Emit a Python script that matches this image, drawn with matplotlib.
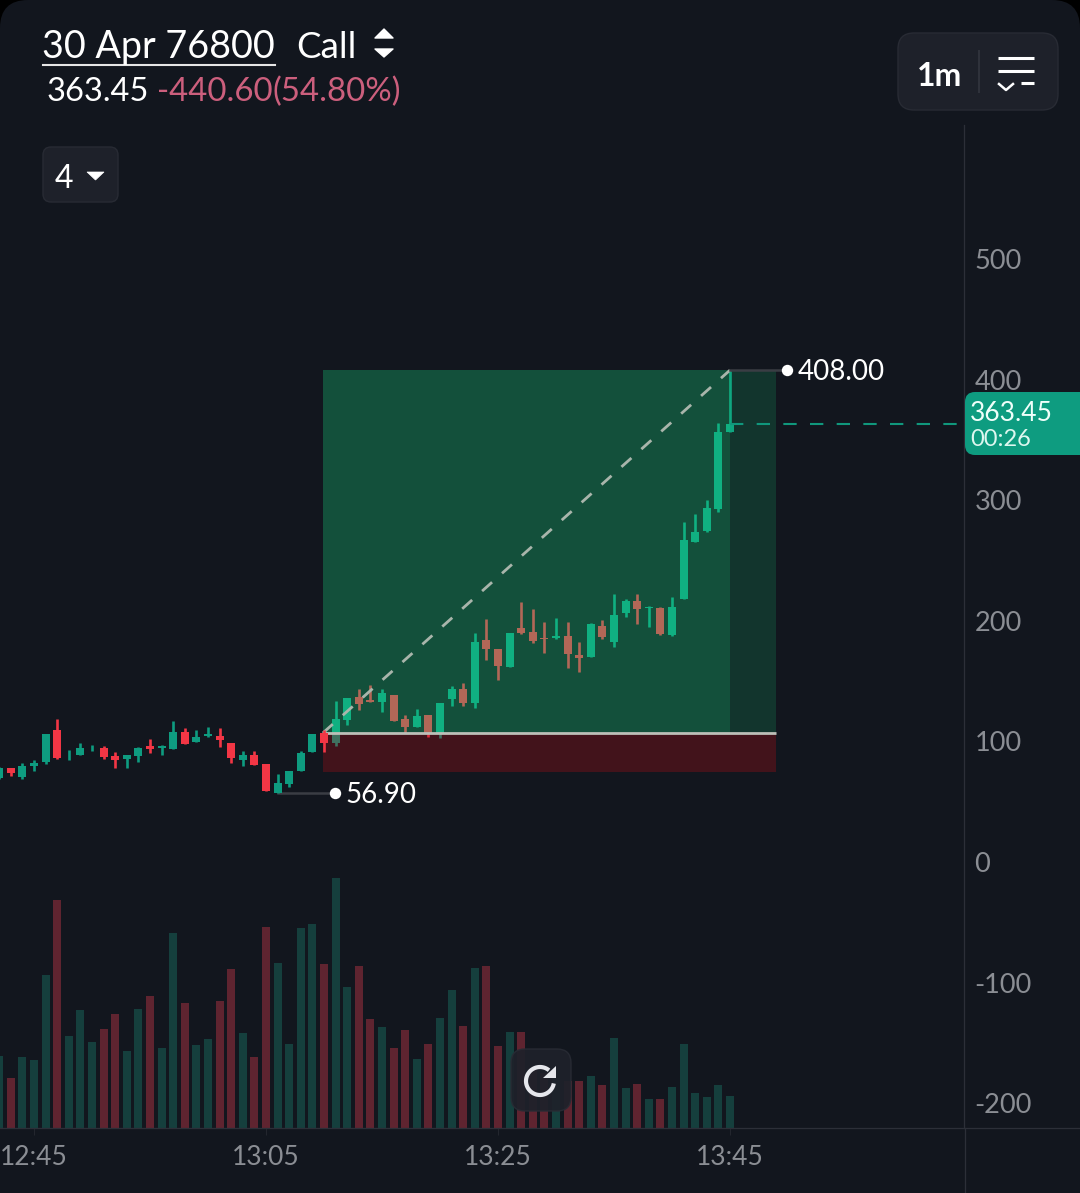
import numpy as np
import matplotlib
matplotlib.use("Agg")
import matplotlib.pyplot as plt
from matplotlib.patches import FancyBboxPatch, Polygon, Rectangle

plt.rcParams["font.family"] = ["Lato", "DejaVu Sans"]

# one candle per minute, 12:42 to 13:45, offsets counted back from 13:45
minutes = np.arange(-63, 1)

opens = [69.9, 78.2, 70.2, 79.6, 82.7, 109.5, 92.1, 88.7, 96.2, 94.6, 87.7, 85.2, 88.2, 96.2, 94.6, 94.0,
         108.1, 99.3, 104.5, 104.8, 98.9, 84.6, 88.5, 81.3, 56.9, 64.4, 75.5, 91.5, 106.7, 98.4, 117.8, 136.6,
         134.4, 133.0, 138.3, 118.4, 112.2, 121.7, 106.7, 134.9, 143.2, 131.6, 184.1, 176.9, 162.0, 193.8,
         190.5, 185.5, 185.8, 187.4, 171.7, 169.8, 196.0, 182.7, 206.3, 216.7, 210.9, 210.9, 188.3, 217.9,
         265.7, 274.8, 292.8, 356.4]
highs = [78.5, 78.2, 81.9, 84.6, 106.2, 118.9, 92.9, 98.5, 97.0, 96.2, 91.0, 88.5, 95.6, 101.8, 97.0, 116.7,
         111.4, 109.5, 112.2, 110.9, 98.9, 92.3, 91.8, 81.3, 72.7, 75.5, 92.3, 105.9, 109.5, 133.5, 135.8, 143.2,
         147.0, 143.2, 138.8, 121.7, 127.1, 121.7, 131.6, 146.0, 148.7, 189.7, 201.3, 176.9, 190.2, 215.9,
         209.6, 198.8, 202.6, 199.3, 182.7, 198.0, 200.7, 222.0, 217.9, 222.0, 212.3, 211.5, 219.5, 281.7,
         288.4, 300.2, 363.9, 408.0]
lows = [68.8, 71.6, 68.6, 75.7, 81.3, 85.7, 84.6, 88.7, 92.1, 85.7, 78.2, 78.2, 82.9, 90.7, 88.5, 94.0,
        98.1, 99.3, 103.9, 95.6, 81.9, 79.9, 80.7, 58.9, 56.9, 62.5, 75.5, 91.5, 91.2, 96.5, 113.6, 126.1,
        132.7, 124.7, 116.7, 107.2, 112.2, 103.4, 102.8, 129.4, 129.4, 127.5, 167.5, 151.0, 162.0, 189.1,
        181.4, 173.6, 185.0, 160.9, 157.6, 169.8, 184.7, 178.6, 203.4, 197.4, 195.2, 188.7, 187.4, 217.9,
        265.7, 273.5, 290.5, 356.4]
closes = [77.7, 74.1, 79.6, 81.9, 105.9, 86.3, 92.5, 94.3, 96.6, 87.3, 84.6, 88.5, 94.3, 93.7, 96.5, 107.8,
          98.1, 103.9, 105.9, 101.2, 86.0, 89.0, 80.7, 59.1, 65.8, 75.5, 90.7, 105.9, 98.4, 118.4, 135.8, 131.0,
          132.7, 139.9, 116.7, 112.2, 121.1, 106.2, 131.6, 143.2, 131.6, 182.5, 176.4, 162.6, 190.2, 189.7,
          183.5, 184.7, 187.4, 172.5, 169.4, 197.1, 186.4, 204.6, 216.7, 209.8, 211.5, 189.1, 211.7, 266.8,
          273.9, 293.6, 356.6, 363.45]
volumes = [72, 49.7, 71, 67.7, 153, 227.7, 91.7, 118.3, 86.3, 99, 114.3, 77, 118.7, 132, 80, 195.3,
           124.7, 83, 89, 126.7, 159.3, 95.3, 71.3, 201.3, 164.7, 84, 200.3, 204.3, 163.7, 250, 141.3, 162,
           109, 101, 80, 98, 68.7, 84, 109.7, 138, 102, 160.3, 162, 82.3, 96.3, 95.7, 60, 55,
           58, 47, 47, 51.7, 42.7, 89.7, 40, 44, 29, 29, 41, 84.3, 34.7, 30.7, 43.3, 31.7]

price_ticks = [500, 400, 300, 200, 100, 0, -100, -200]
time_ticks = [-60, -40, -20, 0]
time_labels = ["12:45", "13:05", "13:25", "13:45"]

last_price = 363.45
day_high = 408.00
day_low = 56.90
entry_price = 107.0
target_price = 408.0
stop_price = 74.6
box_start = -35.1
box_now = 0
box_end = 4

BG = "#12161E"
UP = "#0E9C80"
DOWN = "#F23645"
PANEL = "#1E212A"
GRID = "#2C2F38"
AXIS_TEXT = "#8B8E94"

W, H = 1080, 1193
fig = plt.figure(figsize=(W / 100, H / 100), dpi=100, facecolor="black")


def pixel_axes(z):
    a = fig.add_axes([0, 0, 1, 1], zorder=z)
    a.set_xlim(0, W)
    a.set_ylim(H, 0)
    a.axis("off")
    a.patch.set_alpha(0)
    return a


back = pixel_axes(0)
back.add_patch(FancyBboxPatch((0, 0), W, H + 60, boxstyle="round,pad=0,rounding_size=28", fc=BG, ec="none"))

# price pane, volume shares the same frame
frame = [0, (H - 1128) / H, 964 / W, (1128 - 125) / H]
vol_ax = fig.add_axes(frame, zorder=1)
ax = fig.add_axes(frame, zorder=2)
for a in (vol_ax, ax):
    a.patch.set_alpha(0)
    a.set_xlim(-62.93, 20.17)

vol_ax.set_ylim(0, 1003)
vol_ax.axis("off")

opens_a = np.array(opens)
closes_a = np.array(closes)
rising = closes_a >= opens_a
vol_ax.bar(minutes, volumes, width=0.69, color=np.where(rising, "#153F3D", "#5F2430"))

ax.set_ylim(-220.6, 611.3)
colors = np.where(rising, UP, DOWN)
body_low = np.minimum(opens_a, closes_a)
body_high = np.maximum(opens_a, closes_a)
inside = minutes > -35

# candles in the box sit under the translucent zones
for mask, z in ((inside, 3), (~inside, 6)):
    ax.vlines(minutes[mask], np.array(lows)[mask], np.array(highs)[mask], colors=colors[mask],
              linewidth=1.9, zorder=z)
    ax.bar(minutes[mask], (body_high - body_low)[mask], bottom=body_low[mask], width=0.69,
           color=colors[mask], zorder=z)

# long position tool
ax.add_patch(Rectangle((box_start, entry_price), box_now - box_start, target_price - entry_price,
                       fc="#18E184", alpha=0.29, ec="none", zorder=4))
ax.add_patch(Rectangle((box_now, entry_price), box_end - box_now, target_price - entry_price,
                       fc="#18E184", alpha=0.155, ec="none", zorder=4))
ax.add_patch(Rectangle((box_start, stop_price), box_end - box_start, entry_price - stop_price,
                       fc="#B20F17", alpha=0.3, ec="none", zorder=4))
ax.plot([box_start, box_end], [entry_price, entry_price], color="#BDBFB8", lw=2.0, zorder=5,
        solid_capstyle="butt")
ax.plot([box_start, box_now], [entry_price, target_price], color="#A9B5AB", lw=2.0, zorder=5,
        dashes=(4.8, 4.8), dash_capstyle="butt")

# last price line
ax.plot([0, 20.17], [last_price, last_price], color="#10977C", lw=1.5, dashes=(6.4, 6.4), zorder=5)

# high and low markers
ax.plot([0, 4.9], [day_high, day_high], color="#3A3D44", lw=1.8, zorder=5, clip_on=False)
ax.plot([-39, -34], [day_low, day_low], color="#3A3D44", lw=1.8, zorder=5)
ax.plot([4.9], [day_high], "o", color="white", ms=8.2, mew=0, zorder=7)
ax.plot([-34.05], [day_low], "o", color="white", ms=8.2, mew=0, zorder=7)
ax.annotate(f"{day_high:.2f}", (4.9, day_high), xytext=(8.0, -1.2), textcoords="offset points",
            color="white", fontsize=20, va="center", zorder=7)
ax.annotate(f"{day_low:.2f}", (-34.05, day_low), xytext=(7.2, -1.2), textcoords="offset points",
            color="white", fontsize=20, va="center", zorder=7)

ax.yaxis.tick_right()
ax.set_yticks(price_ticks)
ax.set_yticklabels([str(p) for p in price_ticks])
ax.set_xticks(time_ticks)
ax.set_xticklabels(time_labels)
ax.tick_params(axis="y", length=0, pad=7.5, labelsize=19.5, labelcolor=AXIS_TEXT)
ax.tick_params(axis="x", length=5, width=0.7, color="#24272F", pad=7.5, labelsize=19, labelcolor=AXIS_TEXT)
for side in ("top", "left"):
    ax.spines[side].set_visible(False)
ax.spines["right"].set_color(GRID)
ax.spines["bottom"].set_color(GRID)
ax.spines["right"].set_linewidth(0.9)
ax.spines["bottom"].set_linewidth(0.9)

# header, buttons and price tag on top of the pane
ui = pixel_axes(3)
ui.plot([964.5, 964.5], [1128, H], color=GRID, lw=0.9)
ui.plot([964.5, W], [1128, 1128], color=GRID, lw=0.9)
ui.add_patch(FancyBboxPatch((965, 392), 150, 63, boxstyle="round,pad=0,rounding_size=10", fc="#0E9C80", ec="none"))
ui.text(970, 413.5, "363.45", color="#EFFFFA", fontsize=19, va="center")
ui.text(970, 440, "00:26", color="#DDF7EF", fontsize=17, va="center")

ui.text(42, 47, "30 Apr 76800", color="white", fontsize=27.2, va="center")
ui.plot([43, 275], [65, 65], color="#E6E6E6", lw=1.5)
ui.text(296, 47, "Call", color="white", fontsize=26.5, va="center")
ui.add_patch(Polygon([[375, 38], [393, 38], [384, 29]], fc="white", ec="white", lw=1, joinstyle="round"))
ui.add_patch(Polygon([[375, 49], [393, 49], [384, 57]], fc="white", ec="white", lw=1, joinstyle="round"))
ui.text(47, 92, "363.45", color="white", fontsize=23.5, va="center")
ui.text(157, 92, "-440.60", color="#CC5F7D", fontsize=23.8, va="center")
ui.text(273, 92, "(54.80%)", color="#CC5F7D", fontsize=23.8, va="center")

ui.add_patch(FancyBboxPatch((43, 147), 75, 55, boxstyle="round,pad=0,rounding_size=8", fc=PANEL, ec="#282B34", lw=1))
ui.text(55, 179, "4", color="white", fontsize=23, va="center")
ui.add_patch(Polygon([[87, 172], [104, 172], [95.5, 180]], fc="white", ec="white", lw=0.5))

ui.add_patch(FancyBboxPatch((898, 33), 160, 77, boxstyle="round,pad=0,rounding_size=16", fc=PANEL, ec="#282B34", lw=1))
ui.text(917, 77, "1m", color="white", fontsize=23, fontweight="bold", va="center")
ui.plot([979, 979], [51, 92], color="#2F323B", lw=1.5)
ui.plot([998, 1034], [58, 58], color="white", lw=2.2, solid_capstyle="butt")
ui.plot([998, 1034], [71, 71], color="white", lw=2.2, solid_capstyle="butt")
ui.plot([1021, 1034], [83, 83], color="white", lw=2.2, solid_capstyle="butt")
ui.plot([999, 1006, 1013], [84, 90, 84], color="white", lw=1.8)

# reload button
ui.add_patch(FancyBboxPatch((511, 1049), 60, 62, boxstyle="round,pad=0,rounding_size=14", fc="#1E212A", alpha=0.93,
                            ec="#282B34", lw=1))
arc = np.radians(np.linspace(-10, -310, 60))
ui.plot(540 + 14 * np.cos(arc), 1081 - 14 * np.sin(arc), color="#E6E7EC", lw=3, solid_capstyle="butt")
ui.add_patch(Polygon([[555.7, 1065.7], [555.7, 1078.3], [543.3, 1078.3]], fc="#E6E7EC", ec="none"))

fig.savefig("out.png", dpi=100, facecolor="black")
